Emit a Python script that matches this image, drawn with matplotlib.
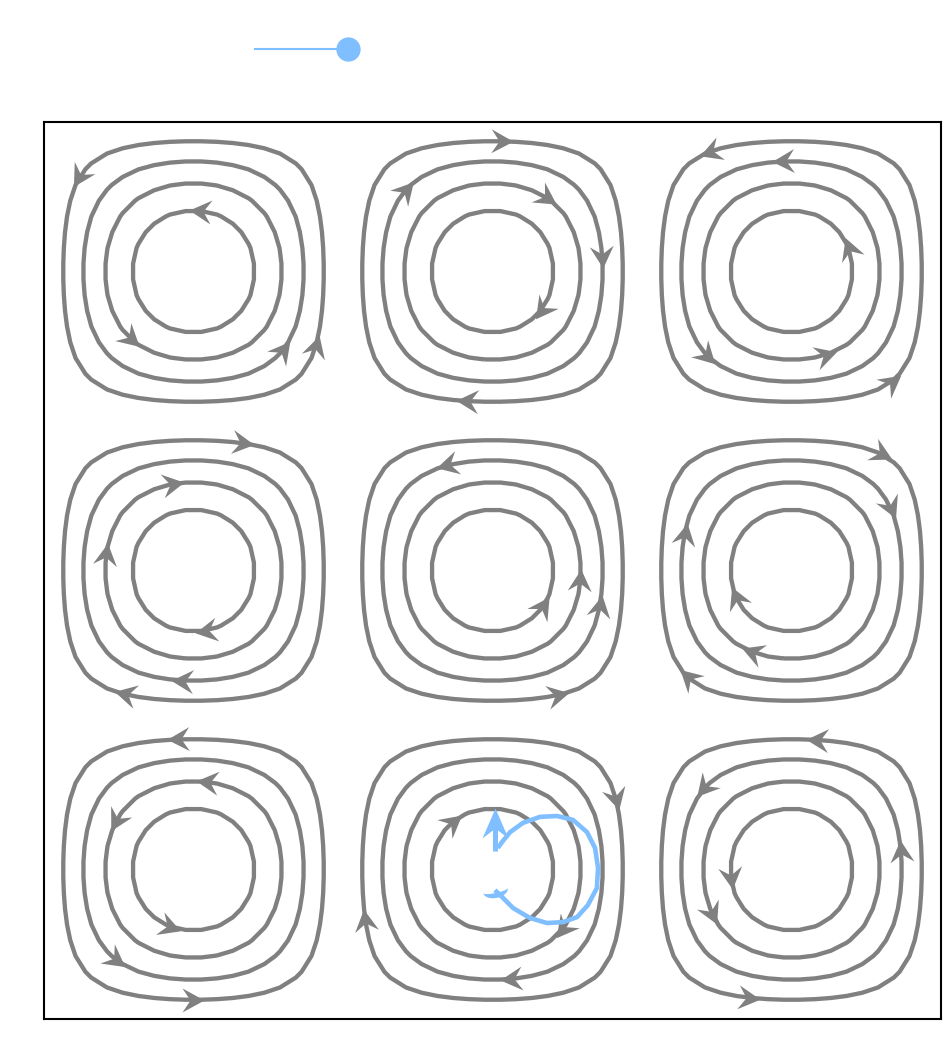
import numpy as np
import matplotlib
matplotlib.use("Agg")
import matplotlib.pyplot as plt
from matplotlib.path import Path
from matplotlib.markers import MarkerStyle
from matplotlib.transforms import Affine2D
from matplotlib.lines import Line2D
from matplotlib.legend_handler import HandlerLine2D

# ---------------- data ----------------
n_cells = 3
levels = [0.2, 0.4, 0.6, 0.8]
grid_n = 58

# arrows on the streamlines: cell column, cell row (0 = bottom), level, angle (deg) around the cell centre
arrow_col = [0, 0, 0, 0, 0,
             1, 1, 1, 1, 1, 1,
             2, 2, 2, 2, 2, 2,
             0, 0, 0, 0, 0, 0,
             1, 1, 1, 1, 1,
             2, 2, 2, 2, 2, 2,
             0, 0, 0, 0, 0, 0,
             1, 1, 1, 1, 1,
             2, 2, 2, 2, 2, 2]
arrow_row = [2, 2, 2, 2, 2,
             2, 2, 2, 2, 2, 2,
             2, 2, 2, 2, 2, 2,
             1, 1, 1, 1, 1, 1,
             1, 1, 1, 1, 1,
             1, 1, 1, 1, 1, 1,
             0, 0, 0, 0, 0, 0,
             0, 0, 0, 0, 0,
             0, 0, 0, 0, 0, 0]
arrow_level = [0.8, 0.6, 0.4, 0.2, 0.2,
               0.2, 0.4, 0.6, 0.4, 0.8, 0.2,
               0.2, 0.4, 0.8, 0.6, 0.4, 0.2,
               0.2, 0.6, 0.6, 0.8, 0.4, 0.2,
               0.4, 0.6, 0.4, 0.8, 0.2,
               0.2, 0.4, 0.4, 0.8, 0.6, 0.2,
               0.2, 0.6, 0.6, 0.8, 0.4, 0.2,
               0.2, 0.8, 0.2, 0.6, 0.4,
               0.2, 0.4, 0.4, 0.8, 0.6, 0.2]
arrow_angle = [84, -132.8, -41.3, 140.5, -31.4,
               85.9, 136.8, 53.4, 7.6, -37.8, -101,
               124.3, 94.6, 22.4, -67.8, -134.8, -47.7,
               68.8, 103.4, 169, -78.7, -96, -119,
               113.3, -6, -18.3, -35.1, -62.4,
               52.2, 32.3, 161, -154.4, -116, -134.2,
               96.7, 81.5, 147.6, -112.5, -130.4, -90.1,
               29.9, 129.8, -158.5, -40, -80.2,
               79, 137.2, 9.4, -172.3, -150.5, -108.3]

# particle trajectory
traj_x = [1.508, 1.525, 1.569, 1.625, 1.682, 1.736, 1.783, 1.819, 1.849, 1.853,
          1.843, 1.816, 1.769, 1.716, 1.659, 1.602, 1.559, 1.532, 1.518]
traj_y = [0.431, 0.415, 0.371, 0.338, 0.321, 0.324, 0.341, 0.381, 0.438, 0.505,
          0.572, 0.625, 0.666, 0.679, 0.676, 0.656, 0.625, 0.592, 0.572]
vel_arrow_x = [1.508, 1.508]
vel_arrow_y = [0.562, 0.706]

# ---------------- styles ----------------
GRAY = "#808080"
BLUE = "#80bfff"
PX = 100 / 72  # pixels per point


def dart(L, W, notch, anchor="center"):
    off = L / 2.0 if anchor == "center" else 0.0
    verts = [(off, 0), (off - L, W / 2), (off - L + notch, 0), (off - L, -W / 2), (off, 0)]
    codes = [Path.MOVETO, Path.LINETO, Path.LINETO, Path.LINETO, Path.CLOSEPOLY]
    return Path(verts, codes)


def crescent():
    t1 = np.linspace(np.pi, 2 * np.pi, 25)
    outer = np.column_stack([np.cos(t1), 0.6 * np.sin(t1)])
    t2 = np.linspace(2 * np.pi, np.pi, 25)
    inner = np.column_stack([np.cos(t2), 0.2 * np.sin(t2)])
    verts = np.vstack([outer, inner, outer[:1]])
    codes = [Path.MOVETO] + [Path.LINETO] * (len(verts) - 2) + [Path.CLOSEPOLY]
    return Path(verts, codes)


fig = plt.figure(figsize=(9.45, 10.63), dpi=100)
ax = fig.add_axes([44 / 945, 1 - 1019 / 1063, 897 / 945, 897 / 1063])

xs = np.linspace(0, n_cells, grid_n)
X, Y = np.meshgrid(xs, xs)
PSI = np.sin(np.pi * X) * np.sin(np.pi * Y)
all_levels = sorted([-l for l in levels] + list(levels))
ax.contour(X, Y, PSI, levels=all_levels, colors=GRAY, linewidths=3.1,
           linestyles="solid", negative_linestyles="solid")

dart_small = dart(22, 24, 8)
for c, r, lev, ang in zip(arrow_col, arrow_row, arrow_level, arrow_angle):
    cx, cy = c + 0.5, r + 0.5
    t = np.deg2rad(ang)
    rr = np.linspace(0, 0.7, 3001)
    px = cx + rr * np.cos(t)
    py = cy + rr * np.sin(t)
    p = np.abs(np.sin(np.pi * px) * np.sin(np.pi * py))
    i = int(np.argmax(p < lev))
    x0, y0 = px[i], py[i]
    u = np.sin(np.pi * x0) * np.cos(np.pi * y0)
    v = -np.cos(np.pi * x0) * np.sin(np.pi * y0)
    d = np.degrees(np.arctan2(v, u))
    ms = MarkerStyle(dart_small, transform=Affine2D().rotate_deg(d))
    ax.plot([x0], [y0], ls="none", marker=ms, markersize=24 / PX,
            color=GRAY, markeredgewidth=0, zorder=3)

# trajectory
ax.plot(traj_x, traj_y, color=BLUE, lw=3.3, zorder=5, solid_capstyle="butt")
ax.plot(traj_x[:1], traj_y[:1], ls="none",
        marker=MarkerStyle(crescent(), transform=Affine2D().rotate_deg(12)),
        markersize=25 / PX, color=BLUE, markeredgewidth=0, zorder=6)
ax.plot(vel_arrow_x, [vel_arrow_y[0], vel_arrow_y[1] - 0.05], color=BLUE, lw=3.6,
        zorder=5, solid_capstyle="butt")
ang_v = np.degrees(np.arctan2(vel_arrow_y[1] - vel_arrow_y[0], vel_arrow_x[1] - vel_arrow_x[0]))
ax.plot(vel_arrow_x[1:], vel_arrow_y[1:], ls="none",
        marker=MarkerStyle(dart(30, 26, 10, anchor="tip"), transform=Affine2D().rotate_deg(ang_v)),
        markersize=60 / PX, color=BLUE, markeredgewidth=0, zorder=6)

ax.set_xlim(0, n_cells)
ax.set_ylim(0, n_cells)
ax.set_aspect("equal")
ax.set_xticks([])
ax.set_yticks([])
for s in ax.spines.values():
    s.set_linewidth(1.5)
    s.set_color("black")


class EndMarkerHandler(HandlerLine2D):
    def create_artists(self, legend, orig_handle, xdescent, ydescent, width, height,
                       fontsize, trans):
        artists = super().create_artists(legend, orig_handle, xdescent, ydescent,
                                          width, height, fontsize, trans)
        for a in artists:
            n = len(a.get_xdata())
            a.set_markevery([n - 1])
        return artists


handle = Line2D([], [], color=BLUE, lw=1.5, marker="o", markersize=17.5, markeredgewidth=0)
fig.legend(handles=[handle], labels=[""], loc="center left",
           bbox_to_anchor=(255 / 945, 1 - 50 / 1063), bbox_transform=fig.transFigure,
           frameon=False, borderpad=0, borderaxespad=0, handletextpad=0,
           handlelength=6.7, fontsize=10, handler_map={Line2D: EndMarkerHandler()})

fig.savefig("out.png", dpi=100)
